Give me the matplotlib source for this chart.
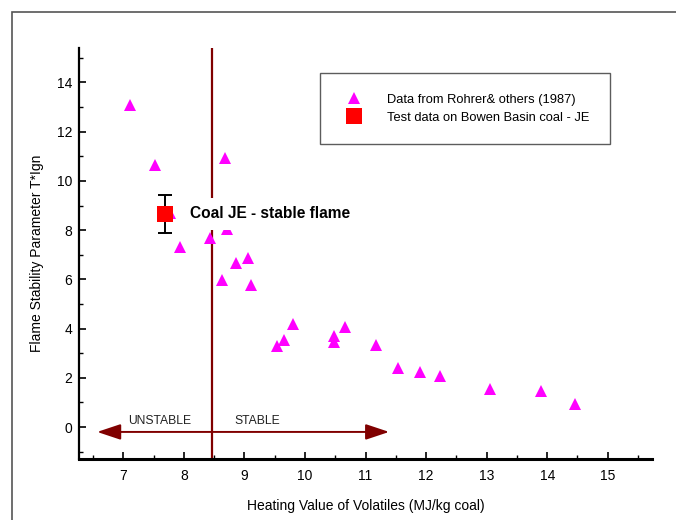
import matplotlib
matplotlib.use("Agg")
import matplotlib.pyplot as plt
from matplotlib.lines import Line2D
from matplotlib.patches import Rectangle

plt.rcParams['font.family'] = ['Liberation Sans', 'DejaVu Sans']

# Rohrer & others (1987) flame stability data
rohrer_hv = [7.12, 7.53, 8.68, 7.78, 7.94, 8.43, 8.71, 8.86, 9.06, 8.63, 9.11,
             9.81, 9.66, 9.54, 10.48, 10.48, 10.66, 11.17, 11.54, 11.90, 12.23,
             13.06, 13.90, 14.46]
rohrer_tign = [13.1, 10.66, 10.95, 8.70, 7.33, 7.69, 8.06, 6.67, 6.88, 5.98, 5.78,
               4.19, 3.54, 3.30, 3.70, 3.46, 4.07, 3.34, 2.40, 2.24, 2.07,
               1.55, 1.46, 0.94]

# Bowen Basin coal JE test point
je_hv = [7.69]
je_tign = [8.67]
je_err = [0.77]

stable_limit = 8.47
arrow_y = -0.2
arrow_left = 6.57
arrow_right = 11.39

fig = plt.figure(figsize=(6.76, 5.20), dpi=100)
ax = fig.add_axes([79 / 676, 1 - 459 / 520, 573 / 676, 411 / 520])

# outer page frame
fig.patches.append(Rectangle((12 / 676, -0.1), 1.2, 1.1 - 12 / 520, transform=fig.transFigure,
                             fill=False, edgecolor='#555555', linewidth=1.2, clip_on=False))

ax.axvline(stable_limit, color='#800000', lw=1.6, zorder=1)

ax.plot(rohrer_hv, rohrer_tign, linestyle='none', marker='^', markersize=9,
        color='#FF00FF', markeredgewidth=0, zorder=2)
ax.errorbar(je_hv, je_tign, yerr=je_err, fmt='none', ecolor='black', elinewidth=1.4,
            capsize=5, capthick=1.4, zorder=4)
ax.plot(je_hv, je_tign, linestyle='none', marker='s', markersize=12,
        color='#FF0000', markeredgewidth=0, zorder=5)

ax.text(8.10, je_tign[0], 'Coal JE - stable flame', fontsize=11.2, fontweight='bold',
        va='center', ha='left', zorder=6,
        bbox=dict(facecolor='white', edgecolor='none', pad=6))

# stable / unstable arrows
arrow_props = dict(arrowstyle='-|>,head_length=1.2,head_width=0.4', mutation_scale=12,
                   color='#800000', lw=1.4, shrinkA=0, shrinkB=0)
ax.annotate('', xy=(arrow_left, arrow_y), xytext=(stable_limit, arrow_y), arrowprops=arrow_props)
ax.annotate('', xy=(arrow_right, arrow_y), xytext=(stable_limit, arrow_y), arrowprops=arrow_props)
ax.text(7.61, 0.25, 'UNSTABLE', fontsize=8.7, ha='center', va='center', color='#222222')
ax.text(9.21, 0.25, 'STABLE', fontsize=8.7, ha='center', va='center', color='#222222')

ax.set_xlim(6.27, 15.73)
ax.set_ylim(-1.3, 15.4)
ax.set_xticks(range(7, 16))
ax.set_xticks([x + 0.5 for x in range(6, 16)], minor=True)
ax.set_yticks(range(0, 15, 2))
ax.set_yticks(range(-1, 16, 2), minor=True)
ax.tick_params(which='both', direction='in', labelsize=10, color='black')
ax.tick_params(which='major', length=5, width=1.2)
ax.tick_params(which='minor', length=3, width=1)
ax.tick_params(axis='x', pad=7)
ax.tick_params(axis='y', pad=5)

for side in ['top', 'right']:
    ax.spines[side].set_visible(False)
ax.spines['left'].set_linewidth(1.6)
ax.spines['bottom'].set_linewidth(2.2)

ax.set_xlabel('Heating Value of Volatiles (MJ/kg coal)', fontsize=10, labelpad=12)
ax.set_ylabel('Flame Stability Parameter T*Ign', fontsize=10, labelpad=9)

handles = [
    Line2D([], [], linestyle='none', marker='^', markersize=9, color='#FF00FF', markeredgewidth=0),
    Line2D([], [], linestyle='none', marker='s', markersize=12, color='#FF0000', markeredgewidth=0),
]
labels = ['Data from Rohrer& others (1987)', 'Test data on Bowen Basin coal - JE']
leg = ax.legend(handles, labels, loc='upper right', bbox_to_anchor=(0.927, 0.939),
                fontsize=9.3, frameon=True, fancybox=False, borderpad=1.6,
                handletextpad=1.6, labelspacing=0.45, borderaxespad=0)
leg.get_frame().set_edgecolor('#333333')
leg.get_frame().set_linewidth(1.0)

fig.savefig('out.png', dpi=100)
